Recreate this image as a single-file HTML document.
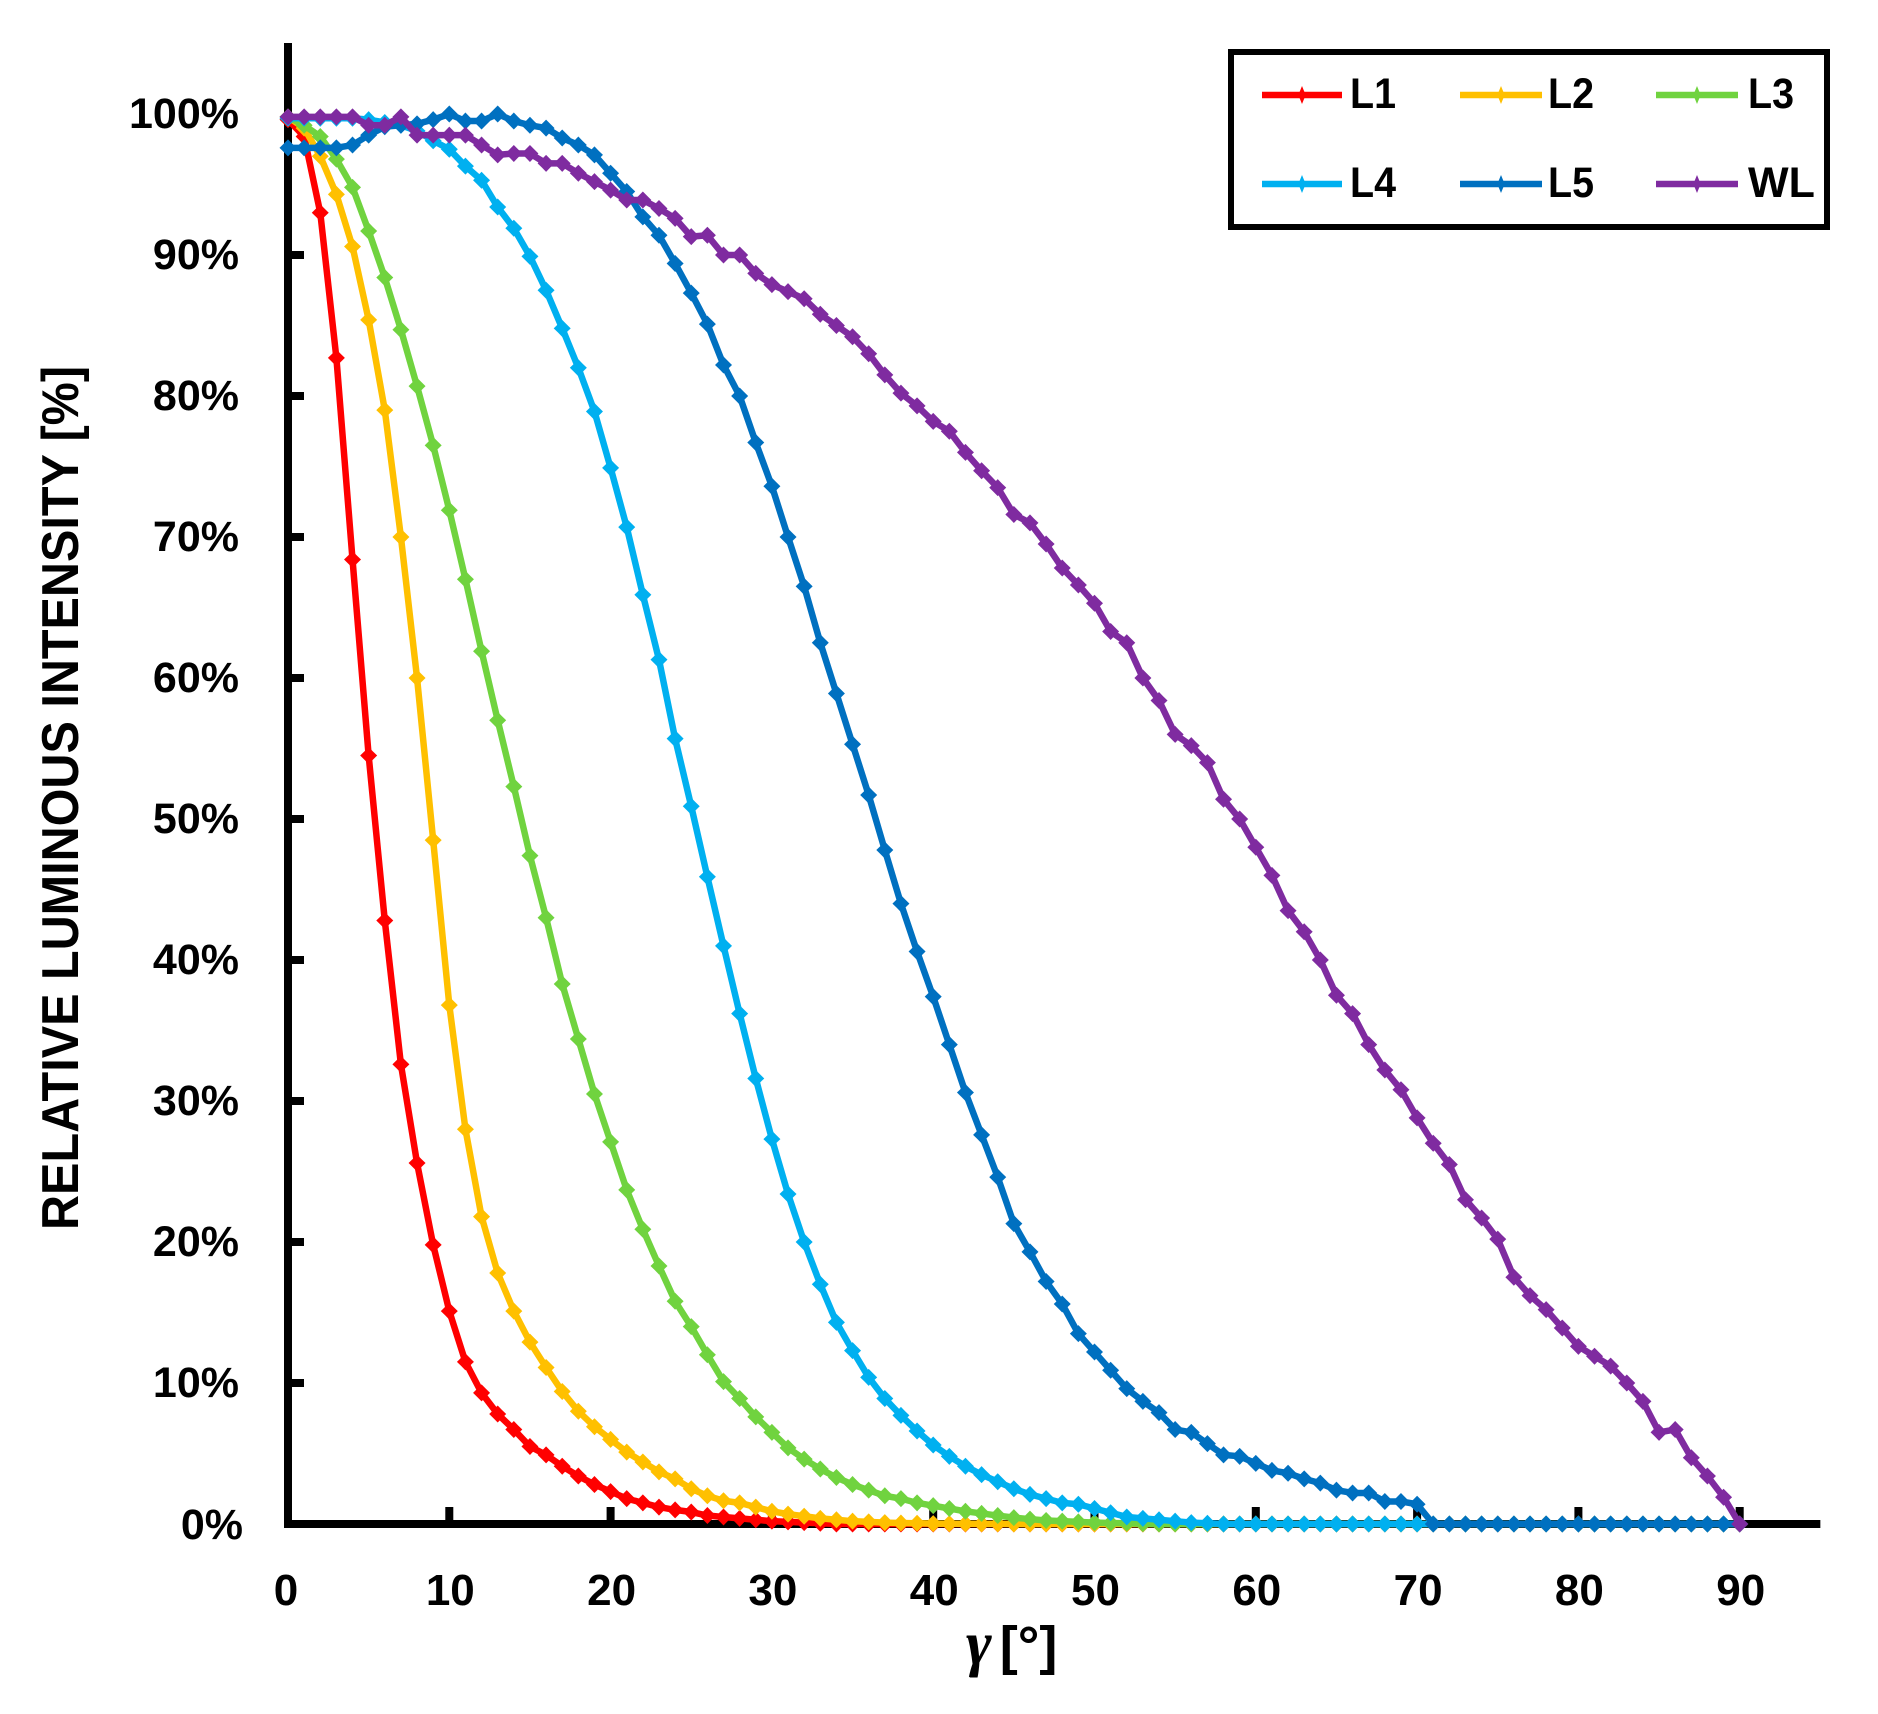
<!DOCTYPE html>
<html>
<head>
<meta charset="utf-8">
<title>Relative luminous intensity chart</title>
<style>
html,body{margin:0;padding:0;background:#fff;}
svg{display:block;}
text{font-family:"Liberation Sans",sans-serif;font-weight:bold;fill:#000;}
</style>
</head>
<body>
<svg id="chart" xmlns="http://www.w3.org/2000/svg" width="1878" height="1714" viewBox="0 0 1878 1714">
  <rect x="0" y="0" width="1878" height="1714" fill="#fff"/>
  <g id="axes"></g>
  <g id="series"></g>
  <text transform="translate(78,798) rotate(-90)" text-anchor="middle" font-size="52" textLength="864" lengthAdjust="spacingAndGlyphs">RELATIVE LUMINOUS INTENSITY [%]</text>
  <text y="1664" x="966"><tspan style="font-family:'Liberation Serif',serif;font-style:italic" font-size="62">γ</tspan><tspan font-size="54" dx="8">[°]</tspan></text>
  <g id="legend">
    <rect x="1231" y="52" width="596" height="175" fill="#fff" stroke="#000" stroke-width="6"/>
  </g>
</svg>
<script>
const xTicks = [0, 10, 20, 30, 40, 50, 60, 70, 80, 90];
const yTicks = [0, 10, 20, 30, 40, 50, 60, 70, 80, 90, 100];
const seriesNames = ['L1', 'L2', 'L3', 'L4', 'L5', 'WL'];
const seriesColors = ['#ff0000', '#ffc000', '#70d33f', '#00b0f0', '#0070c0', '#7f2ba0'];
const L1 = [99.6,98.4,93,82.7,68.4,54.5,42.8,32.6,25.6,19.8,15.1,11.5,9.3,7.8,6.7,5.5,4.9,4.1,3.4,2.8,2.3,1.8,1.5,1.2,1,0.85,0.6,0.5,0.4,0.3,0.2,0.15,0.1,0.05,0,0,0,0,0,0,0,0,0,0,0,0,0,0,0,0,0,0,0,0,0,0,0,0,0,0,0,0,0,0,0,0,0,0,0,0,0,0,0,0,0,0,0,0,0,0,0,0,0,0,0,0,0,0,0,0,0];
const L2 = [99.8,99,97,94.3,90.6,85.4,79,70,60,48.5,36.8,28,21.8,17.8,15.1,12.9,11.1,9.4,8,6.9,6,5.1,4.4,3.7,3.2,2.5,2,1.65,1.5,1.2,0.9,0.7,0.55,0.4,0.3,0.2,0.15,0.1,0.07,0.05,0.03,0.02,0.02,0.01,0.01,0,0,0,0,0,0,0,0,0,0,0,0,0,0,0,0,0,0,0,0,0,0,0,0,0,0,0,0,0,0,0,0,0,0,0,0,0,0,0,0,0,0,0,0,0,0];
const L3 = [99.8,99.2,98.4,96.8,94.8,91.7,88.4,84.7,80.7,76.5,71.9,67,61.9,57,52.3,47.4,43,38.3,34.4,30.5,27.1,23.7,20.9,18.3,15.8,14,12,10.1,8.9,7.6,6.5,5.4,4.6,3.9,3.3,2.8,2.4,2,1.8,1.5,1.3,1.1,0.9,0.75,0.6,0.45,0.35,0.25,0.2,0.15,0.1,0.07,0.05,0.02,0,0,0,0,0,0,0,0,0,0,0,0,0,0,0,0,0,0,0,0,0,0,0,0,0,0,0,0,0,0,0,0,0,0,0,0,0];
const L4 = [99.7,99.7,99.7,99.7,99.7,99.6,99.4,99.2,98.8,98.1,97.5,96.3,95.3,93.4,91.9,89.9,87.5,84.8,82,78.9,74.9,70.7,65.9,61.3,55.7,50.9,45.9,41,36.2,31.6,27.3,23.4,20,17,14.3,12.3,10.4,8.9,7.7,6.6,5.6,4.8,4.1,3.5,3,2.5,2.1,1.8,1.5,1.4,1.1,0.8,0.5,0.4,0.3,0.2,0.1,0.05,0,0,0,0,0,0,0,0,0,0,0,0,0,0,0,0,0,0,0,0,0,0,0,0,0,0,0,0,0,0,0,0,0];
const L5 = [97.6,97.6,97.6,97.6,97.8,98.5,99.1,99.2,99.3,99.6,100,99.5,99.5,100,99.5,99.2,99,98.3,97.8,97.1,95.8,94.5,92.7,91.4,89.4,87.3,85.1,82.2,80,76.7,73.6,70,66.5,62.5,58.9,55.3,51.7,47.8,44,40.6,37.4,34,30.6,27.6,24.6,21.3,19.3,17.2,15.6,13.5,12.2,10.9,9.6,8.7,7.9,6.7,6.5,5.7,4.9,4.8,4.3,3.8,3.6,3.2,2.9,2.4,2.2,2.2,1.6,1.6,1.4,0,0,0,0,0,0,0,0,0,0,0,0,0,0,0,0,0,0,0,0];
const WL = [99.8,99.8,99.8,99.8,99.8,99.2,99.2,99.8,98.5,98.5,98.5,98.5,97.8,97.1,97.2,97.2,96.5,96.5,95.8,95.2,94.6,93.9,93.9,93.3,92.6,91.3,91.4,90,90,88.7,87.9,87.4,86.9,85.8,85,84.2,83,81.5,80.2,79.3,78.2,77.5,76,74.7,73.5,71.6,71,69.5,67.8,66.6,65.3,63.3,62.5,60,58.4,56,55.2,54,51.4,50,48,46,43.5,42,40,37.5,36.2,34,32.2,30.8,28.8,27,25.5,23,21.7,20.2,17.5,16.2,15.2,13.9,12.6,11.9,11.2,10,8.7,6.5,6.7,4.7,3.4,1.9,0];
const seriesValues = [L1, L2, L3, L4, L5, WL];

const NS = 'http://www.w3.org/2000/svg';
const xScale = function (v) { return 288 + 16.13 * v; };
const yScale = function (v) { return 1524 - 14.1 * v; };

function make(tag, parent, attrs) {
  const el = document.createElementNS(NS, tag);
  for (const k in attrs) { el.setAttribute(k, attrs[k]); }
  parent.appendChild(el);
  return el;
}
function starPath(x, y, r, c) {
  return 'M' + (x - r) + ' ' + y + 'L' + (x - c) + ' ' + (y - c) + 'L' + x + ' ' + (y - r) +
         'L' + (x + c) + ' ' + (y - c) + 'L' + (x + r) + ' ' + y + 'L' + (x + c) + ' ' + (y + c) +
         'L' + x + ' ' + (y + r) + 'L' + (x - c) + ' ' + (y + c) + 'Z';
}

const axes = document.getElementById('axes');

const yAxisLine = make('rect', axes, { x: 284, y: 43, width: 8, height: 1485, fill: '#000' });



const xAxisLine = make('rect', axes, { x: 284, y: 1520, width: 537, height: 8, fill: '#000' });
xAxisLine.setAttribute('width', xScale(95) - 284);



yTicks.forEach(function (t) {
  if (t > 0 && t < 100) {
    const tick = make('rect', axes, { x: 290, y: yScale(t) - 4, width: 14, height: 8, fill: '#000' });
    
    
  }
  const label = make('text', axes, { x: t === 0 ? 243 : 239, y: yScale(t) + (t === 0 ? 15 : 14), 'text-anchor': 'end', 'font-size': 43 });
  label.textContent = t + '%';
  
  
});

xTicks.forEach(function (t) {
  if (t > 0) {
    const tick = make('rect', axes, { x: xScale(t) - 4, y: 1507, width: 8, height: 14, fill: '#000' });
    
    
  }
  const label = make('text', axes, { x: t === 0 ? xScale(t) - 2 : xScale(t) + 1, y: 1605, 'text-anchor': 'middle', 'font-size': 44 });
  label.textContent = t;
  
  
});

const seriesGroup = document.getElementById('series');
seriesValues.forEach(function (vals, s) {
  const g = make('g', seriesGroup, {});
  
  
  const pts = vals.map(function (v, i) { return xScale(i) + ',' + yScale(v); }).join(' ');
  const line = make('polyline', g, { points: pts, fill: 'none', stroke: seriesColors[s], 'stroke-width': 6.5, 'stroke-linejoin': 'round' });
  
  
  vals.forEach(function (v, i) {
    const m = make('path', g, { d: starPath(xScale(i), yScale(v), 8.5, 4.2), fill: seriesColors[s] });
    
    
  });
});

const legend = document.getElementById('legend');
const legendColumns = [[1262, 1342, 1350], [1460, 1542, 1548], [1656, 1738, 1748]];
const legendRows = [95, 184];
seriesNames.forEach(function (name, s) {
  const col = legendColumns[s % 3];
  const ly = legendRows[Math.floor(s / 3)];
  const g = make('g', legend, {});
  
  
  const l = make('line', g, { x1: col[0], x2: col[1], y1: ly, y2: ly, stroke: seriesColors[s], 'stroke-width': 6.5 });
  
  
  const mk = make('path', g, { d: starPath((col[0] + col[1]) / 2, ly, 9, 2.6), fill: seriesColors[s] });
  
  
  const t = make('text', g, { x: col[2], y: ly + 13, 'font-size': 43 });
  if (name !== 'WL') { t.setAttribute('textLength', '46'); t.setAttribute('lengthAdjust', 'spacingAndGlyphs'); }
  t.textContent = name;
  
  
});
</script>
</body>
</html>
